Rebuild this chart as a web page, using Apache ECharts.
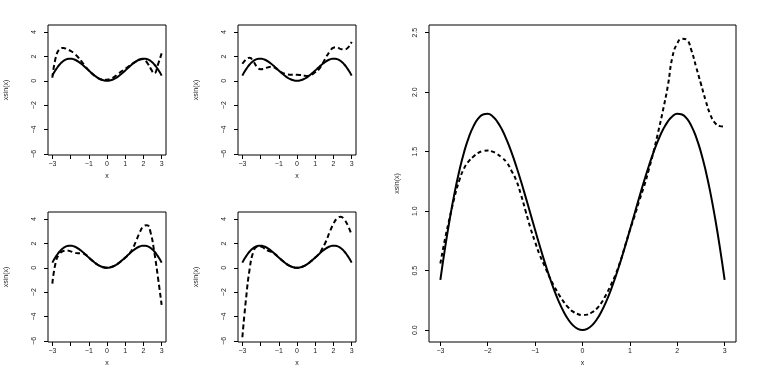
<!DOCTYPE html>
<html>
<head>
<meta charset="utf-8">
<script src="https://cdn.jsdelivr.net/npm/echarts@6/dist/echarts.min.js"></script>
<style>
  html, body { margin: 0; padding: 0; background: #fff; }
  #chart { width: 761px; height: 374px; }
</style>
</head>
<body>
<div id="chart"></div>
<script>
// solid curve: x sin(x), sampled every 0.1 (same grid for the big dashed fit)
var xsFine = [-3, -2.9, -2.8, -2.7, -2.6, -2.5, -2.4, -2.3, -2.2, -2.1, -2, -1.9, -1.8, -1.7, -1.6, -1.5,
              -1.4, -1.3, -1.2, -1.1, -1, -0.9, -0.8, -0.7, -0.6, -0.5, -0.4, -0.3, -0.2, -0.1, 0,
              0.1, 0.2, 0.3, 0.4, 0.5, 0.6, 0.7, 0.8, 0.9, 1, 1.1, 1.2, 1.3, 1.4, 1.5,
              1.6, 1.7, 1.8, 1.9, 2, 2.1, 2.2, 2.3, 2.4, 2.5, 2.6, 2.7, 2.8, 2.9, 3];
var truth = [0.423, 0.694, 0.938, 1.154, 1.340, 1.496, 1.621, 1.715, 1.779, 1.813, 1.819, 1.798, 1.753, 1.686, 1.599, 1.496,
             1.380, 1.253, 1.118, 0.980, 0.841, 0.705, 0.574, 0.451, 0.339, 0.240, 0.156, 0.089, 0.040, 0.010, 0,
             0.010, 0.040, 0.089, 0.156, 0.240, 0.339, 0.451, 0.574, 0.705, 0.841, 0.980, 1.118, 1.253, 1.380, 1.496,
             1.599, 1.686, 1.753, 1.798, 1.819, 1.813, 1.779, 1.715, 1.621, 1.496, 1.340, 1.154, 0.938, 0.694, 0.423];
var fitBig = [0.56, 0.77, 0.95, 1.12, 1.26, 1.36, 1.42, 1.46, 1.49, 1.505, 1.51, 1.50, 1.48, 1.45, 1.41, 1.34,
              1.26, 1.14, 1.00, 0.86, 0.74, 0.63, 0.54, 0.45, 0.37, 0.30, 0.24, 0.19, 0.155, 0.135, 0.126,
              0.13, 0.15, 0.18, 0.23, 0.30, 0.38, 0.47, 0.58, 0.71, 0.84, 0.96, 1.09, 1.21, 1.35, 1.50,
              1.67, 1.85, 2.05, 2.30, 2.41, 2.45, 2.44, 2.35, 2.21, 2.07, 1.93, 1.81, 1.74, 1.715, 1.71];

// dashed fits of the small panels, sampled every 0.2
var xsFit = [-3, -2.8, -2.6, -2.4, -2.2, -2, -1.8, -1.6, -1.4, -1.2, -1, -0.8, -0.6, -0.4, -0.2, 0,
             0.2, 0.4, 0.6, 0.8, 1, 1.2, 1.4, 1.6, 1.8, 2, 2.2, 2.4, 2.6, 2.8, 3];
var fit1 = [0.25, 2.0, 2.6, 2.7, 2.6, 2.45, 2.25, 1.95, 1.6, 1.2, 0.85, 0.55, 0.32, 0.15, 0.08, 0.08,
            0.16, 0.32, 0.55, 0.78, 0.98, 1.2, 1.42, 1.6, 1.75, 1.78, 1.5, 1.0, 0.6, 1.35, 2.25];
var fit2 = [1.4, 1.75, 1.9, 1.6, 1.15, 0.95, 0.98, 1.1, 1.15, 1.05, 0.85, 0.65, 0.55, 0.5, 0.5, 0.5,
            0.47, 0.42, 0.4, 0.5, 0.7, 0.95, 1.4, 1.95, 2.4, 2.72, 2.75, 2.6, 2.58, 2.72, 3.2];
var fit3 = [-1.3, 0.55, 1.15, 1.38, 1.42, 1.35, 1.25, 1.2, 1.2, 1.1, 0.85, 0.57, 0.34, 0.16, 0.04, 0,
            0.04, 0.16, 0.34, 0.57, 0.82, 1.12, 1.55, 2.2, 2.9, 3.4, 3.5, 2.85, 1.25, -0.8, -3.05];
var fit4 = [-5.7, -2.55, -0.1, 1.3, 1.72, 1.75, 1.6, 1.42, 1.3, 1.12, 0.84, 0.57, 0.34, 0.16, 0.04, 0,
            0.04, 0.16, 0.34, 0.57, 0.84, 1.12, 1.6, 2.2, 2.95, 3.6, 4.05, 4.18, 3.95, 3.45, 2.7];

var xTicks = [-3, -2, -1, 0, 1, 2, 3];
var xLabelsSmall = [-3, -1, 0, 1, 2, 3];
var yTicksSmall = [-6, -4, -2, 0, 2, 4];
var yTicksBig = [0, 0.5, 1, 1.5, 2, 2.5];

function pairs(xs, arr) {
    return xs.map(function (x, i) { return [x, arr[i]]; });
}
function minus(v) {
    return String(v).replace('-', '\u2212');
}

var font = 'Liberation Sans, Arial, sans-serif';
var panels = [
    { grid: { left: 48, top: 25, width: 118, height: 130 }, xs: xsFit, fit: fit1, big: false },
    { grid: { left: 238, top: 25, width: 118, height: 130 }, xs: xsFit, fit: fit2, big: false },
    { grid: { left: 48, top: 212, width: 118, height: 130 }, xs: xsFit, fit: fit3, big: false },
    { grid: { left: 238, top: 212, width: 118, height: 130 }, xs: xsFit, fit: fit4, big: false },
    { grid: { left: 429, top: 25, width: 307, height: 317 }, xs: xsFine, fit: fitBig, big: true }
];

var grids = [], xAxes = [], yAxes = [], series = [];
panels.forEach(function (p, i) {
    grids.push(Object.assign({ show: true, borderColor: '#000', borderWidth: 1, backgroundColor: 'transparent' }, p.grid));
    xAxes.push({
        type: 'value', gridIndex: i, min: -3.24, max: 3.24,
        name: 'x', nameLocation: 'middle', nameGap: 18,
        nameTextStyle: { fontFamily: font, fontSize: 7, color: '#222' },
        axisLine: { show: false, onZero: false },
        axisTick: { show: true, length: 4, customValues: xTicks, lineStyle: { color: '#000' } },
        axisLabel: {
            customValues: p.big ? xTicks : xLabelsSmall, margin: 6,
            fontFamily: font, fontSize: 7, color: '#222', formatter: minus
        },
        splitLine: { show: false }
    });
    yAxes.push({
        type: 'value', gridIndex: i,
        min: p.big ? -0.1 : -6.09, max: p.big ? 2.565 : 4.58,
        name: 'xsin(x)', nameLocation: 'middle', nameGap: p.big ? 28 : 38,
        nameTextStyle: { fontFamily: font, fontSize: 7, color: '#222' },
        axisLine: { show: false, onZero: false },
        axisTick: { show: true, length: 4, customValues: p.big ? yTicksBig : yTicksSmall, lineStyle: { color: '#000' } },
        axisLabel: {
            customValues: p.big ? yTicksBig : yTicksSmall, rotate: 90, margin: 10,
            fontFamily: font, fontSize: 7, color: '#222',
            formatter: p.big ? function (v) { return v.toFixed(1); } : minus
        },
        splitLine: { show: false }
    });
    series.push({
        type: 'line', xAxisIndex: i, yAxisIndex: i, data: pairs(xsFine, truth),
        smooth: true, showSymbol: false, silent: true,
        lineStyle: { color: '#000', width: 2 }
    });
    series.push({
        type: 'line', xAxisIndex: i, yAxisIndex: i, data: pairs(p.xs, p.fit),
        smooth: true, showSymbol: false, silent: true,
        lineStyle: { color: '#000', width: 2, type: p.big ? [4, 3] : [5, 3] }
    });
});

var mychart = echarts.init(document.getElementById('chart'));
mychart.setOption({
    animation: false,
    backgroundColor: '#fff',
    grid: grids,
    xAxis: xAxes,
    yAxis: yAxes,
    series: series
});
</script>
</body>
</html>
